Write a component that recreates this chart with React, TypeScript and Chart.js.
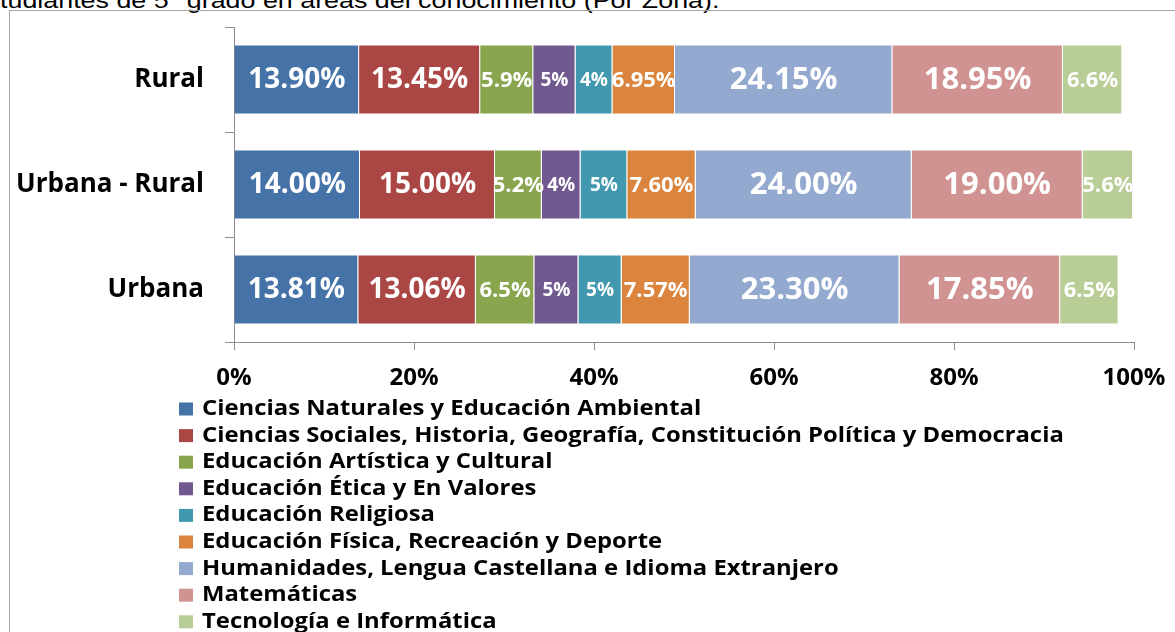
import React, { useEffect, useRef } from "react";
import { Chart, registerables } from "chart.js";

Chart.register(...registerables);

const categories = ["Rural", "Urbana - Rural", "Urbana"];
const seriesNames = [
  "Ciencias Naturales y Educación Ambiental",
  "Ciencias Sociales, Historia, Geografía, Constitución Política y Democracia",
  "Educación Artística y Cultural",
  "Educación Ética y En Valores",
  "Educación Religiosa",
  "Educación Física, Recreación y Deporte",
  "Humanidades, Lengua Castellana e Idioma Extranjero",
  "Matemáticas",
  "Tecnología e Informática",
];
const naturales = [13.9, 14.0, 13.81];
const sociales = [13.45, 15.0, 13.06];
const artistica = [5.9, 5.2, 6.5];
const etica = [4.7, 4.3, 4.9];
const religiosa = [4.1, 5.2, 4.8];
const fisica = [6.95, 7.6, 7.57];
const humanidades = [24.15, 24.0, 23.3];
const matematicas = [18.95, 19.0, 17.85];
const tecnologia = [6.6, 5.6, 6.5];
const seriesValues = [naturales, sociales, artistica, etica, religiosa, fisica, humanidades, matematicas, tecnologia];
const labelDecimals = [2, 2, 1, 0, 0, 2, 2, 2, 1];
const xTicks = [0, 20, 40, 60, 80, 100];
const titleText = "tudiantes de 5° grado en áreas del conocimiento (Por Zona).";

const colors = ["#4572A7", "#AA4643", "#89A54E", "#71588F", "#4198AF", "#DB843D", "#93A9CF", "#D19392", "#B9CD96"];
const labelSizes = [28, 28, 22, 19, 19, 22, 31, 31, 22];
const FONT = "'Open Sans', 'DejaVu Sans', sans-serif";

const zeroPadding = (scale: any) => {
  scale.paddingTop = 0;
  scale.paddingBottom = 0;
  scale.paddingLeft = 0;
  scale.paddingRight = 0;
};

const dataLabelPlugin = {
  id: "dataLabels",
  afterDatasetsDraw(chart: any) {
    const ctx = chart.ctx;
    ctx.save();
    chart.data.datasets.forEach((ds: any, i: number) => {
      const meta = chart.getDatasetMeta(i);
      meta.data.forEach((el: any, j: number) => {
        const v = ds.data[j];
        const p = el.getCenterPoint();
        ctx.font = `bold ${labelSizes[i]}px ${FONT}`;
        ctx.fillStyle = "#ffffff";
        ctx.textAlign = "center";
        ctx.textBaseline = "middle";
        ctx.fillText(v.toFixed(labelDecimals[i]) + "%", p.x, p.y + 1);
      });
    });
    ctx.restore();
  },
};

const legendPlugin = {
  id: "customLegend",
  afterDraw(chart: any) {
    const ctx = chart.ctx;
    ctx.save();
    ctx.font = `bold 21px ${FONT}`;
    ctx.textAlign = "left";
    ctx.textBaseline = "middle";
    const stretch = 1.135;
    seriesNames.forEach((name, i) => {
      const cy = 409 + i * 26.6;
      ctx.fillStyle = colors[i];
      ctx.fillRect(179, cy - 6.5, 14, 13);
      ctx.fillStyle = "#000000";
      ctx.save();
      ctx.translate(202, cy);
      ctx.scale(stretch, 1);
      ctx.fillText(name, 0, 0);
      ctx.restore();
    });
    ctx.restore();
  },
};

export default function App() {
  const ref = useRef<HTMLCanvasElement | null>(null);
  useEffect(() => {
    if (!ref.current) return;
    const chart = new Chart(ref.current, {
      type: "bar",
      data: {
        labels: categories,
        datasets: seriesNames.map((name, i) => ({
          label: name,
          data: seriesValues[i],
          backgroundColor: colors[i],
          borderColor: "rgba(255,255,255,0.55)",
          borderWidth: 1,
          barPercentage: 0.667,
          categoryPercentage: 1,
        })),
      },
      options: {
        indexAxis: "y",
        animation: false,
        responsive: true,
        maintainAspectRatio: false,
        layout: { padding: { left: 0, right: 41, top: 27, bottom: 240 } },
        plugins: {
          legend: { display: false },
          tooltip: { enabled: false },
          title: { display: false },
        },
        scales: {
          x: {
            stacked: true,
            min: 0,
            max: 100,
            afterBuildTicks: (scale: any) => {
              scale.ticks = xTicks.map((v) => ({ value: v }));
            },
            afterFit: (scale: any) => {
              scale.height = 50;
              zeroPadding(scale);
            },
            ticks: {
              callback: (v: any) => v + "%",
              color: "#000000",
              font: { family: FONT, size: 24, weight: "bold" },
              padding: 14,
              maxRotation: 0,
            },
            grid: { drawOnChartArea: false, drawTicks: true, tickLength: 8, color: "#8c8c8c" },
            border: { display: true, color: "#8c8c8c" },
          },
          y: {
            stacked: true,
            afterFit: (scale: any) => {
              scale.width = 234;
              zeroPadding(scale);
            },
            ticks: {
              color: "#000000",
              font: { family: FONT, size: 26, weight: "bold" },
              padding: 21,
            },
            grid: { drawOnChartArea: false, drawTicks: true, tickLength: 9, color: "#8c8c8c", offset: true },
            border: { display: true, color: "#8c8c8c" },
          },
        },
      },
      plugins: [dataLabelPlugin, legendPlugin],
    } as any);
    return () => chart.destroy();
  }, []);

  return (
    <div style={{ position: "absolute", left: 0, top: 0, width: 1175, height: 632, overflow: "hidden", background: "#ffffff" }}>
      <div
        style={{
          position: "absolute",
          left: 0,
          top: -10,
          fontFamily: "'Liberation Sans', Arial, sans-serif",
          fontSize: 22,
          whiteSpace: "nowrap",
          color: "#000000",
          lineHeight: "22px",
          transform: "scaleX(1.22)",
          transformOrigin: "left top",
        }}
      >
        {titleText}
      </div>
      <div
        style={{
          position: "absolute",
          left: 9,
          top: 10,
          width: 1300,
          height: 800,
          border: "1px solid #a6a6a6",
        }}
      />
      <div style={{ position: "absolute", left: 0, top: 0, width: 1175, height: 632 }}>
        <canvas ref={ref} />
      </div>
    </div>
  );
}
